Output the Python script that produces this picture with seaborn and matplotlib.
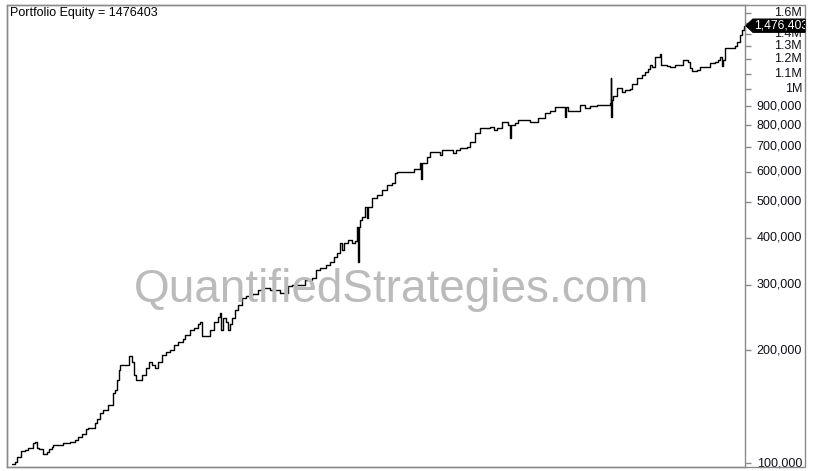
import numpy as np
import pandas as pd
import matplotlib
matplotlib.use("Agg")
import matplotlib.pyplot as plt
import matplotlib.transforms as mtransforms
from matplotlib.patches import Polygon, Rectangle
from matplotlib.ticker import FixedLocator, NullLocator, NullFormatter
import seaborn as sns

# equity curve: (bar index, equity in thousands)
curve = [
    (0, 99.4), (3, 100.6), (5, 103.8), (9, 107.7), (13, 108.3), (16, 109.7),
    (21, 113.1), (23, 113.8), (25, 109.7), (27, 109.0), (31, 105.7), (35, 107.0),
    (37, 109.0), (40, 110.4), (41, 111.7), (51, 113.1), (58, 113.8), (63, 115.2),
    (66, 117.4), (70, 119.5), (74, 123.3), (76, 124.0), (83, 127.9), (85, 131.1),
    (88, 136.1), (91, 138.6), (96, 142.9), (101, 153.9), (103, 156.7), (105, 166.7),
    (107, 177.3), (108, 182.8), (117, 193.2), (120, 186.2), (122, 171.9), (124, 166.7),
    (130, 171.9), (134, 179.5), (137, 186.2), (140, 182.8), (143, 179.5), (146, 186.2),
    (150, 194.5), (154, 198.2), (158, 201.0), (162, 206.8), (166, 210.6), (171, 215.0),
    (173, 219.9), (178, 226.8), (182, 230.0), (186, 236.0), (188, 238.2), (190, 218.6),
    (198, 226.8), (202, 238.2), (206, 245.0), (208, 251.8), (209, 226.8), (211, 244.2),
    (214, 238.2), (216, 226.8), (218, 236.0), (220, 244.2), (223, 256.5), (226, 264.5),
    (230, 276.2), (234, 279.6), (240, 283.0), (246, 290.2), (250, 293.8), (258, 290.2),
    (268, 284.9), (276, 297.4), (280, 299.2), (293, 308.6), (300, 312.4), (304, 328.1),
    (308, 332.2), (314, 338.4), (318, 344.8), (322, 355.6), (325, 364.4), (328, 387.5),
    (330, 371.0), (332, 387.5), (336, 394.8), (340, 387.5), (343, 392.0), (345, 427.6),
    (346, 344.8), (347, 427.6), (348, 446.4), (350, 454.7), (353, 483.6), (355, 453.0),
    (356, 483.6), (360, 511.1), (365, 521.0), (370, 537.0), (375, 553.7), (380, 561.3),
    (383, 596.4), (385, 600.0), (402, 610.0), (408, 634.1), (409, 574.5), (410, 634.1),
    (415, 658.0), (418, 678.7), (428, 666.0), (430, 687.2), (441, 674.5), (444, 687.2),
    (448, 695.8), (455, 700.0), (458, 721.9), (463, 762.7), (468, 786.5), (478, 791.4),
    (482, 777.0), (485, 786.5), (490, 816.3), (496, 801.3), (498, 739.6), (499, 801.3),
    (503, 811.3), (506, 826.3), (518, 816.3), (526, 836.4), (533, 862.7), (538, 873.4),
    (543, 895.2), (553, 841.9), (554, 895.2), (556, 873.4), (568, 906.3), (573, 889.6),
    (578, 900.8), (585, 906.3), (598, 917.6), (599, 1070.0), (599, 841.9), (600, 934.6),
    (601, 957.9), (605, 1006.2), (610, 981.7), (613, 993.9), (618, 1000.0), (620, 1031.0),
    (625, 1070.0), (630, 1090.0), (633, 1110.0), (636, 1131.0), (638, 1159.0), (640, 1145.0),
    (643, 1218.0), (648, 1241.0), (649, 1159.0), (655, 1152.0), (658, 1145.0), (663, 1159.0),
    (671, 1196.0), (676, 1181.0), (678, 1138.0), (680, 1117.0), (685, 1124.0), (688, 1145.0),
    (698, 1173.0), (703, 1181.0), (706, 1196.0), (708, 1218.0), (710, 1152.0), (711, 1196.0),
    (713, 1287.0), (723, 1303.0), (725, 1335.0), (728, 1394.0), (730, 1438.0), (732, 1476.403),
]
bars = [b for b, _ in curve]
equity_k = [e for _, e in curve]

tick_values = [100000, 200000, 300000, 400000, 500000, 600000, 700000, 800000,
               900000, 1000000, 1100000, 1200000, 1300000, 1400000, 1500000, 1600000]
# the 1.5M label sits under the last-value tag, so it is left blank
tick_labels = ["100,000", "200,000", "300,000", "400,000", "500,000", "600,000",
               "700,000", "800,000", "900,000", "1M", "1.1M", "1.2M", "1.3M",
               "1.4M", "", "1.6M"]
final_equity = 1476403

df = pd.DataFrame({"bar": bars, "equity": np.array(equity_k) * 1000})

sns.set_style("white")
plt.rcParams["font.family"] = ["Liberation Sans", "DejaVu Sans"]

W, H = 813, 471
fig = plt.figure(figsize=(W / 100, H / 100), dpi=100)
# plot area in pixels: x 7..745, y 5..467
ax = fig.add_axes([7 / W, (H - 467) / H, (745 - 7) / W, (467 - 5) / H])

sns.lineplot(data=df, x="bar", y="equity", ax=ax, color="black", linewidth=1.0,
             drawstyle="steps-post", estimator=None, sort=False)

ax.set_yscale("log")
ax.set_ylim(97600, 1677000)
ax.set_xlim(-5, 733)
ax.set_xlabel("")
ax.set_ylabel("")
ax.set_xticks([])

frame = "#8a8a8a"
for s in ax.spines.values():
    s.set_color(frame)
    s.set_linewidth(1.0)

ax.yaxis.tick_right()
ax.yaxis.set_major_locator(FixedLocator(tick_values))
ax.yaxis.set_minor_locator(NullLocator())
ax.yaxis.set_major_formatter(NullFormatter())
ax.yaxis.set_minor_formatter(NullFormatter())
ax.tick_params(axis="y", which="major", direction="out", length=4, width=1,
               color=frame, right=True, left=False)

# right-aligned price labels
lab_tr = mtransforms.blended_transform_factory(fig.transFigure, ax.transData)
for v, lab in zip(tick_values, tick_labels):
    if lab:
        ax.text(802 / W, v, lab, transform=lab_tr, ha="right", va="center",
                fontsize=9, color="#10101a", clip_on=False)

# outer frame around the price scale
fig.add_artist(Rectangle((7 / W, (H - 467) / H), (805 - 7) / W, (467 - 5) / H,
                         transform=fig.transFigure, fill=False, edgecolor=frame,
                         linewidth=1.0))

# title
ax.text(10 / W, (H - 13) / H, f"Portfolio Equity = {final_equity}",
        transform=fig.transFigure, ha="left", va="center", fontsize=9,
        color="black")

# watermark
ax.text(391 / W, (H - 302) / H, "QuantifiedStrategies.com", transform=fig.transFigure,
        ha="center", va="baseline", fontsize=33, color="#bbbbbb", zorder=5)

# last-value tag
fig.canvas.draw()
yp = ax.transData.transform((0, final_equity))[1]
pts = [(746, yp), (753, yp + 6.5), (805, yp + 6.5), (805, yp - 6.5), (753, yp - 6.5)]
tag = Polygon([(x / W, y / H) for x, y in pts], closed=True, transform=fig.transFigure,
              facecolor="black", edgecolor="black", zorder=10)
fig.add_artist(tag)
t = fig.text(754 / W, yp / H, f"{final_equity:,}", ha="left", va="center",
             fontsize=8.8, color="white", zorder=11)
t.set_clip_box(mtransforms.Bbox([[746, 0], [805, H]]))
t.set_clip_on(True)

fig.savefig("out.png", dpi=100, facecolor="white")
